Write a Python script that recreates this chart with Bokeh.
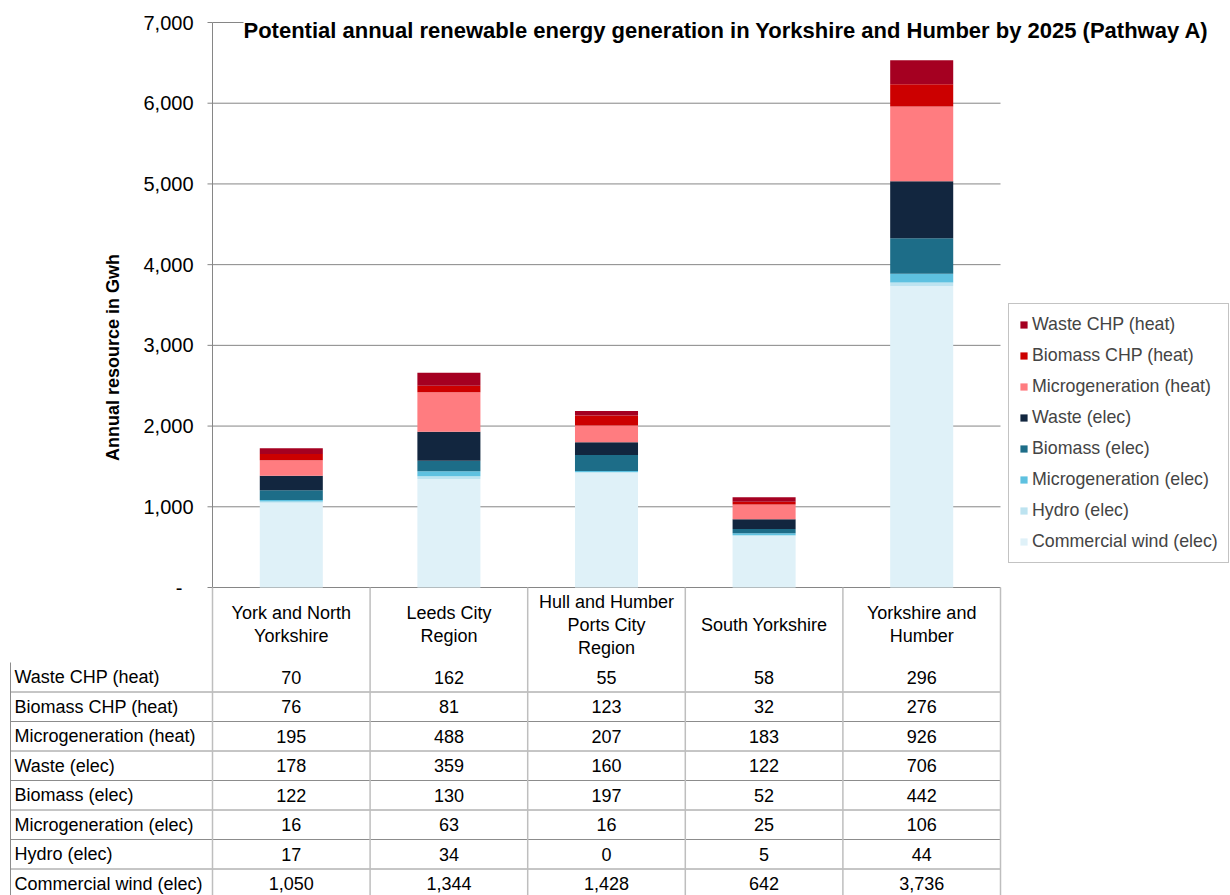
import numpy as np
from bokeh.plotting import figure
from bokeh.models import Range1d, Legend, LegendItem, Label, ColumnDataSource
from bokeh.embed import file_html
from bokeh.resources import INLINE
from bokeh.core.properties import value

FONT = "Liberation Sans"

title_text = "Potential annual renewable energy generation in Yorkshire and Humber by 2025 (Pathway A)"
y_label = "Annual resource in Gwh"

header_labels = ["York and North\nYorkshire", "Leeds City\nRegion",
                 "Hull and Humber\nPorts City\nRegion", "South Yorkshire",
                 "Yorkshire and\nHumber"]

# series, bottom of stack to top
series_names = ["Commercial wind (elec)", "Hydro (elec)", "Microgeneration (elec)",
                "Biomass (elec)", "Waste (elec)", "Microgeneration (heat)",
                "Biomass CHP (heat)", "Waste CHP (heat)"]
commercial_wind = [1050, 1344, 1428, 642, 3736]
hydro = [17, 34, 0, 5, 44]
micro_elec = [16, 63, 16, 25, 106]
biomass_elec = [122, 130, 197, 52, 442]
waste_elec = [178, 359, 160, 122, 706]
micro_heat = [195, 488, 207, 183, 926]
biomass_chp = [76, 81, 123, 32, 276]
waste_chp = [70, 162, 55, 58, 296]
series_values = [commercial_wind, hydro, micro_elec, biomass_elec, waste_elec,
                 micro_heat, biomass_chp, waste_chp]
series_colors = ["#DFF1F8", "#BDE3F0", "#5EC1E0", "#1D6D88", "#12263F",
                 "#FF7C80", "#CC0000", "#A50021"]
y_ticks = [0, 1000, 2000, 3000, 4000, 5000, 6000, 7000]
y_tick_labels = ["-\u00a0\u00a0" if t == 0 else "{:,}".format(t) for t in y_ticks]

GRID = "#868686"
TABLE_H_LINE = "#8C8C8C"
TABLE_V_LINE = "#BEBEBE"

# ---- layout (page pixels) ----
W, H = 1230, 895
OFF = 0
n = len(header_labels)
PLOT_L, PLOT_R = 212, 1000
PLOT_T, ZERO_Y = 22, 587
COL_PX = (PLOT_R - PLOT_L) / n
YSCALE = y_ticks[-1] / (ZERO_Y - PLOT_T)
ROW_PX = 29.5
HEADER_B = 662
TABLE_LEFT = 10


def X(px):
    return (px - PLOT_L) / COL_PX


def Y(py):
    return (ZERO_Y - py) * YSCALE


p = figure(width=W, height=H, x_range=Range1d(X(OFF), X(OFF + W)),
           y_range=Range1d(Y(OFF + H), Y(OFF)), output_backend="svg",
           toolbar_location=None, x_axis_location=None, y_axis_location=None,
           min_border=0)
p.outline_line_color = None
p.grid.visible = False

xs = np.arange(n) + 0.5
yt = np.array(y_ticks, dtype=float)
nt = len(y_ticks)

# gridlines, axis line, ticks, tick labels
p.segment(x0=np.zeros(nt), y0=yt, x1=np.full(nt, float(n)), y1=yt, line_color=GRID, line_width=1)
p.segment(x0=np.full(nt, X(PLOT_L - 5)), y0=yt, x1=np.zeros(nt), y1=yt, line_color=GRID, line_width=1)
p.segment(x0=[0.0], y0=[0.0], x1=[0.0], y1=[float(y_ticks[-1])], line_color=GRID, line_width=1)
p.text(x=np.full(nt, X(PLOT_L - 19)), y=yt, text=y_tick_labels, text_align="right",
       text_baseline="middle", text_font=value(FONT), text_font_size="20px", text_color="black")

# stacked bars
keys = ["s%d" % i for i in range(len(series_names))]
data = {"x": xs}
for k, v in zip(keys, series_values):
    data[k] = v
src = ColumnDataSource(data)
renderers = p.vbar_stack(keys, x="x", width=0.4, color=series_colors, source=src,
                         line_color=None)

items = [LegendItem(label=nm, renderers=[r]) for nm, r in zip(series_names, renderers)][::-1]
legend = Legend(items=items, location=(1008 - OFF, OFF + H - 563), margin=0, padding=10,
                spacing=10, label_height=21, glyph_height=9, glyph_width=9, label_standoff=4,
                label_text_font=FONT, label_text_font_size="17.8px",
                border_line_color="#888888", border_line_width=1,
                background_fill_color="white", background_fill_alpha=1)
p.add_layout(legend, "center")

p.add_layout(Label(x=X(243), y=Y(30), text=title_text, text_font=FONT, text_font_size="22px",
                   text_font_style="bold", text_baseline="middle", text_align="left",
                   text_color="black", background_fill_color="white", background_fill_alpha=1))
p.add_layout(Label(x=X(112), y=Y(357), text=y_label, text_font=FONT, text_font_size="18px",
                   text_font_style="bold", angle=np.pi / 2, text_align="center",
                   text_baseline="middle", text_color="black"))

# ---------------- data table ----------------
rows_top_down = list(range(len(series_names)))[::-1]
nrows = len(rows_top_down)
bounds_px = HEADER_B + ROW_PX * np.arange(1, nrows + 1)
bounds = Y(bounds_px)
p.segment(x0=np.full(nrows, X(TABLE_LEFT)), y0=bounds, x1=np.full(nrows, float(n)), y1=bounds,
          line_color=TABLE_H_LINE, line_width=1)
vx = np.arange(n + 1).astype(float)
bottom = Y(OFF + H + 5)
p.segment(x0=vx, y0=np.zeros(n + 1), x1=vx, y1=np.full(n + 1, bottom),
          line_color=TABLE_V_LINE, line_width=1.5)
p.segment(x0=[X(TABLE_LEFT)], y0=[Y(HEADER_B)], x1=[X(TABLE_LEFT)], y1=[bottom],
          line_color=TABLE_H_LINE, line_width=1)

# header
p.text(x=xs, y=np.full(n, Y(624)), text=header_labels, text_align="center",
       text_baseline="middle", text_font=value(FONT), text_font_size="18px",
       text_line_height=1.15, text_color="black")

# rows
row_centers = Y(HEADER_B + ROW_PX * (np.arange(nrows) + 0.5))
p.text(x=np.full(nrows, X(TABLE_LEFT + 4)), y=row_centers,
       text=[series_names[i] for i in rows_top_down], text_align="left",
       text_baseline="middle", text_font=value(FONT), text_font_size="18px",
       text_color="black")
cx, cy, ct = [], [], []
for r, si in enumerate(rows_top_down):
    for c in range(n):
        cx.append(xs[c])
        cy.append(row_centers[r])
        ct.append("{:,}".format(series_values[si][c]))
p.text(x=cx, y=cy, text=ct, text_align="center", text_baseline="middle",
       text_font=value(FONT), text_font_size="18px", text_color="black")

open("out.html", "w").write(file_html(p, INLINE))
